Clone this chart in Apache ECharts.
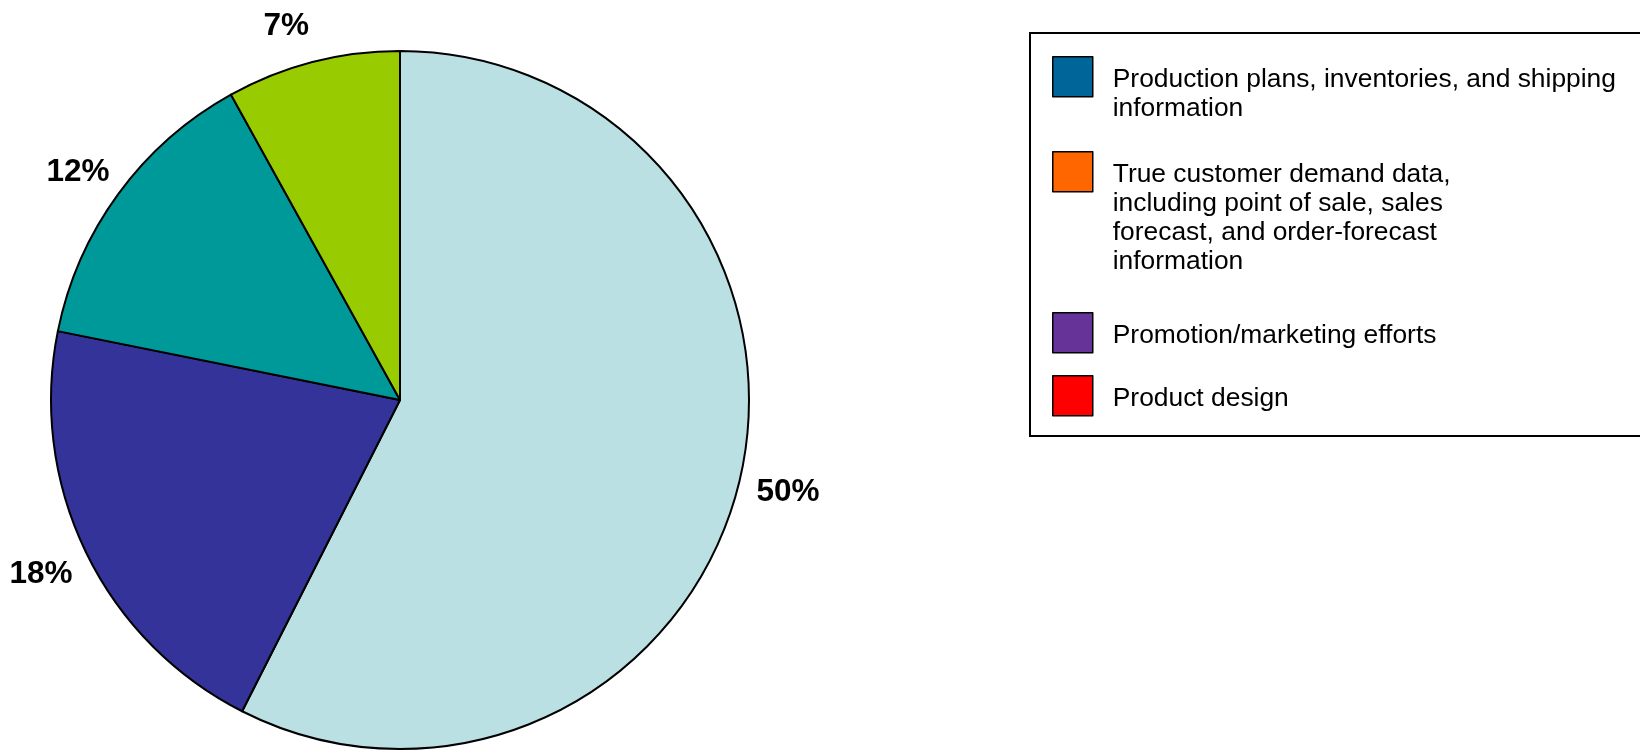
<!DOCTYPE html>
<html>
<head>
<meta charset="utf-8">
<script src="https://cdn.jsdelivr.net/npm/echarts@6/dist/echarts.min.js"></script>
<style>
html,body{margin:0;padding:0;background:#fff;}
#chart{width:1640px;height:750px;}
</style>
</head>
<body>
<div id="chart"></div>
<script>
// ---- data ----
const categories = [
  'Production plans, inventories, and shipping\ninformation',
  'True customer demand data,\nincluding point of sale, sales\nforecast, and order-forecast\ninformation',
  'Promotion/marketing efforts',
  'Product design'
];
const values = [50, 18, 12, 7];
const sliceColors = ['#BBE0E3', '#333399', '#009999', '#99CC00'];
const legendColors = ['#006699', '#FF6600', '#663399', '#FF0000'];

// ---- layout ----
const FONT = '"Liberation Sans", Arial, sans-serif';
const legendLeft = 1052;
const legendIconTops = [56, 151, 312, 375];
const LINE_H = 29;
const LEGEND_FS = 26.4;
const ICON = 40;
const TEXT_SHIFT = 6;
const labelNudges = [null, null, [0, 8], [-14, 13]];

const chart = echarts.init(document.getElementById('chart'), null, {renderer: 'canvas'});

const pieData = categories.map((name, i) => ({
  name: name,
  value: values[i],
  itemStyle: {color: sliceColors[i]}
}));

const labelData = categories.map((name, i) => {
  const d = {name: name, value: values[i]};
  if (labelNudges[i]) d.label = {offset: labelNudges[i]};
  return d;
});

const legends = categories.map((name, i) => {
  const n = name.split('\n').length;
  const h = ICON + (n - 1) * LINE_H + TEXT_SHIFT;
  // square icon at the top of a taller item so the first text line sits beside it
  const iconPath = 'path://M0,0L' + ICON + ',0L' + ICON + ',' + ICON + 'L0,' + ICON + 'Z' +
                   'M' + (ICON / 2) + ',' + h + 'L' + (ICON / 2) + ',' + h;
  return {
    show: true,
    orient: 'vertical',
    left: legendLeft,
    top: legendIconTops[i],
    padding: 0,
    icon: iconPath,
    itemWidth: ICON,
    itemHeight: h,
    selectedMode: false,
    data: [{
      name: name,
      itemStyle: {color: legendColors[i], borderColor: '#000', borderWidth: 1.5}
    }],
    textStyle: {
      fontFamily: FONT,
      fontSize: LEGEND_FS,
      lineHeight: LINE_H,
      color: '#000',
      padding: [0, 0, 0, 15]
    }
  };
});

chart.setOption({
  animation: false,
  backgroundColor: '#fff',
  legend: legends,
  graphic: [{
    type: 'rect',
    silent: true,
    shape: {x: 1030, y: 33, width: 700, height: 403},
    style: {fill: 'none', stroke: '#000', lineWidth: 2}
  }],
  series: [
    {
      type: 'pie',
      center: [400, 400],
      radius: 349,
      startAngle: 90,
      clockwise: true,
      silent: true,
      data: pieData,
      label: {show: false},
      labelLine: {show: false},
      itemStyle: {borderColor: '#000', borderWidth: 2},
      emphasis: {disabled: true}
    },
    {
      type: 'pie',
      center: [400, 400],
      radius: [349, 443],
      startAngle: 90,
      clockwise: true,
      silent: true,
      avoidLabelOverlap: false,
      data: labelData,
      itemStyle: {color: 'rgba(0,0,0,0)', borderWidth: 0},
      label: {
        show: true,
        position: 'inside',
        formatter: '{c}%',
        fontFamily: FONT,
        fontWeight: 'bold',
        fontSize: 31.5,
        color: '#000',
        textBorderWidth: 0
      },
      labelLine: {show: false},
      emphasis: {disabled: true}
    }
  ]
});
</script>
</body>
</html>
